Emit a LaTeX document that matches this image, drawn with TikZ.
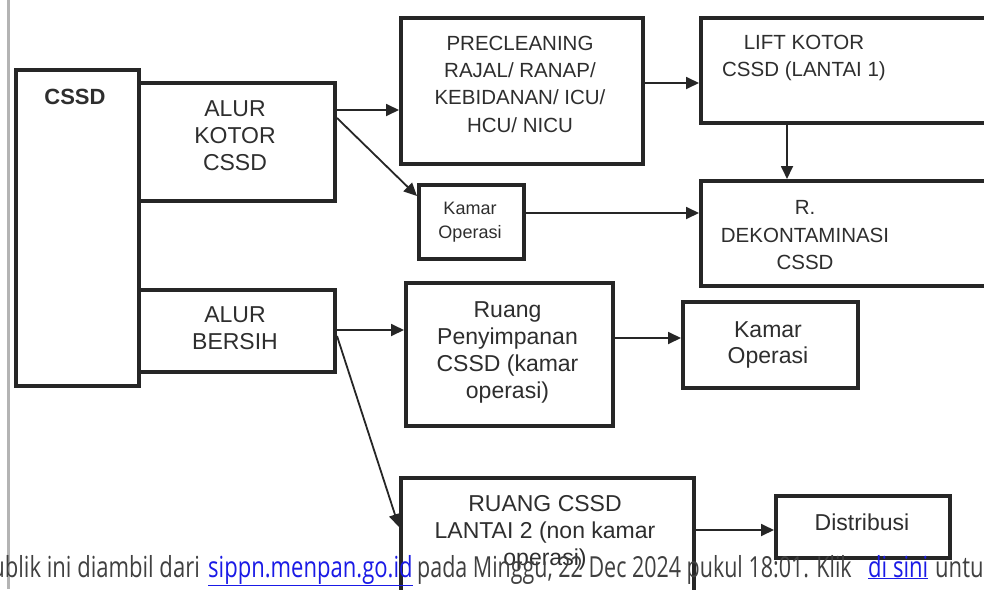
\documentclass[tikz,border=0pt]{standalone}
\usepackage{fontspec}
\setmainfont{Liberation Sans}
\newfontfamily\webfont{Open Sans}
\usetikzlibrary{arrows.meta}
\definecolor{ink}{HTML}{262626}
\definecolor{txt}{HTML}{2E2E2E}
\definecolor{lnk}{HTML}{1A1AE6}
\definecolor{web}{HTML}{404040}
\definecolor{edge}{HTML}{B4B4B4}
\begin{document}
\begin{tikzpicture}[x=1pt,y=-1pt,
  box/.style={draw=ink, line width=4pt, inner sep=0pt, anchor=north west},
  lbl/.style={text=txt, align=center, inner sep=0pt, text depth=0pt, font=\fontsize{23}{27}\selectfont},
  lblm/.style={lbl, font=\fontsize{20.5}{27.3}\selectfont},
  lbls/.style={lbl, font=\fontsize{18}{24}\selectfont},
  arr/.style={draw=ink, line width=1.8pt, -{Triangle[length=13pt,width=12pt]}},
  webtxt/.style={text=web, inner sep=0pt, font=\webfont\fontsize{29}{32}\selectfont},
  weblink/.style={webtxt, text=lnk}]
\useasboundingbox (0,0) rectangle (984,589);
\fill[white] (0,0) rectangle (984,589);
\draw[edge, line width=3pt] (8,0) -- (8,589);

% boxes
\node[box, minimum width=123pt, minimum height=316pt] (cssd) at (14,68) {};
\node[box, minimum width=196pt, minimum height=118pt] (ak) at (137,81) {};
\node[box, minimum width=196pt, minimum height=82pt] (ab) at (137,288) {};
\node[box, minimum width=242pt, minimum height=146pt] (prec) at (399,16) {};
\node[box, minimum width=311pt, minimum height=105pt] (lift) at (699,16) {};
\node[box, minimum width=311pt, minimum height=105pt] (dekon) at (699,179) {};
\node[box, minimum width=105pt, minimum height=74pt] (kam1) at (417,183) {};
\node[box, minimum width=207pt, minimum height=143pt] (ruang) at (404,281) {};
\node[box, minimum width=175pt, minimum height=86pt] (kam2) at (681,300) {};
\node[box, minimum width=293pt, minimum height=144pt] (rcssd) at (399,476) {};
\node[box, minimum width=174pt, minimum height=62pt] (dist) at (774,494) {};

% labels
\node[lbl, font=\bfseries\fontsize{22}{27}\selectfont] (cssdt) at (75,97) {CSSD};
\node[lbl] (akt) at (235,136) {ALUR\\KOTOR\\CSSD};
\node[lbl] (abt) at (235,328.5) {ALUR\\BERSIH};
\node[lblm] (prect) at (520,84) {PRECLEANING\\RAJAL/ RANAP/\\KEBIDANAN/ ICU/\\HCU/ NICU};
\node[lblm] (liftt) at (804,56) {LIFT KOTOR\\CSSD (LANTAI 1)};
\node[lblm] (dekont) at (805,235) {R.\\DEKONTAMINASI\\CSSD};
\node[lbls] (kam1t) at (470,220) {Kamar\\Operasi};
\node[lbl] (ruangt) at (507.5,350) {Ruang\\Penyimpanan\\CSSD (kamar\\operasi)};
\node[lbl, font=\fontsize{23}{26}\selectfont] (kam2t) at (768,343) {Kamar\\Operasi};
\node[lbl] (rcssdt) at (545,530) {RUANG CSSD\\LANTAI 2 (non kamar\\operasi)};
\node[lbl] (distt) at (862,522) {Distribusi};

% connectors
\draw[arr] (ak.east |- 0,110) -- (prec.west |- 0,110);
\draw[arr] (ak.east |- 0,118) -- (kam1.west |- 0,196);
\draw[arr] (prec.east |- 0,83) -- (lift.west |- 0,83);
\draw[arr] (lift.south -| 787,0) -- (dekon.north -| 787,0);
\draw[arr] (kam1.east |- 0,213) -- (dekon.west |- 0,213);
\draw[arr] (ab.east |- 0,330) -- (ruang.west |- 0,330);
\draw[arr] (ab.east |- 0,336) -- (rcssd.west |- 0,527);
\draw[arr] (ruang.east |- 0,338) -- (kam2.west |- 0,338);
\draw[arr] (rcssd.east |- 0,530) -- (dist.west |- 0,530);

% web footer overlay
\node[webtxt, anchor=base east] (w1) at (200,577) {\scalebox{0.76}[1]{publik ini diambil dari}};
\node[weblink, anchor=base west] (w2) at (208,577) {\scalebox{0.76}[1]{\underline{sippn.menpan.go.id}}};
\node[webtxt, anchor=base west] (w3) at (417,577) {\scalebox{0.74}[1]{pada Minggu, 22 Dec 2024 pukul 18:01. Klik}};
\node[weblink, anchor=base west] (w4) at (868,577) {\scalebox{0.76}[1]{\underline{di sini}}};
\node[webtxt, anchor=base west] (w5) at (935,577) {\scalebox{0.76}[1]{untuk}};
\end{tikzpicture}
\end{document}
